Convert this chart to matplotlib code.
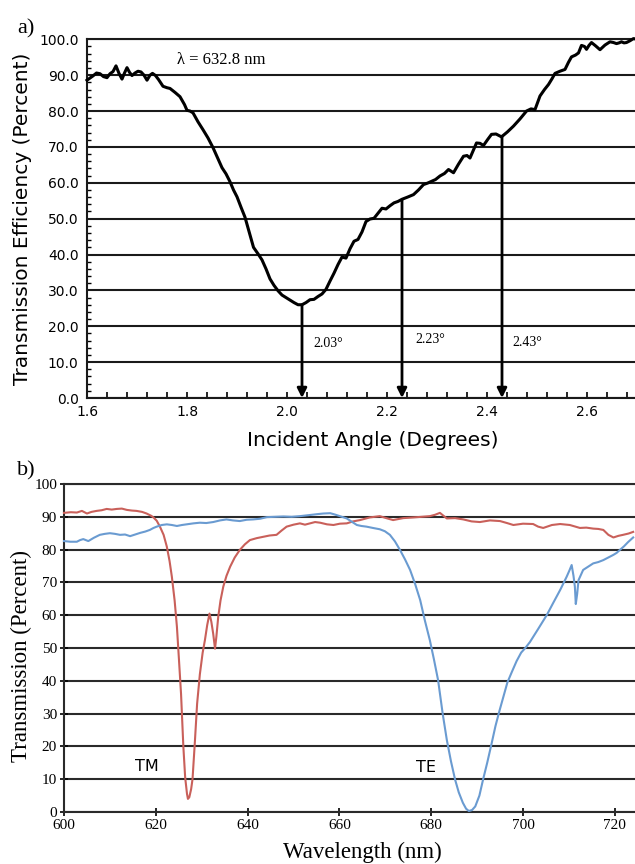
import numpy as np
import matplotlib
matplotlib.use('Agg')
import matplotlib.pyplot as plt
from matplotlib.ticker import MultipleLocator

# ---- panel a: transmission vs incident angle at 632.8 nm ----
angle = [1.600, 1.606, 1.612, 1.619, 1.626, 1.633, 1.640, 1.646, 1.652, 1.658,
         1.664, 1.670, 1.675, 1.680, 1.685, 1.690, 1.696, 1.702, 1.708, 1.714,
         1.720, 1.726, 1.731, 1.737, 1.743, 1.752, 1.760, 1.766, 1.776, 1.786,
         1.795, 1.800, 1.806, 1.812, 1.822, 1.832, 1.842, 1.852, 1.861, 1.870,
         1.878, 1.886, 1.893, 1.900, 1.908, 1.916, 1.925, 1.933, 1.942, 1.950,
         1.958, 1.966, 1.974, 1.982, 1.990, 1.998, 2.006, 2.014, 2.022, 2.030,
         2.038, 2.046, 2.054, 2.062, 2.070, 2.078, 2.086, 2.094, 2.102, 2.110,
         2.118, 2.126, 2.134, 2.142, 2.150, 2.158, 2.166, 2.174, 2.182, 2.190,
         2.198, 2.206, 2.214, 2.222, 2.230, 2.241, 2.253, 2.263, 2.273, 2.281,
         2.289, 2.297, 2.306, 2.315, 2.323, 2.333, 2.343, 2.353, 2.360, 2.366,
         2.373, 2.379, 2.386, 2.393, 2.401, 2.409, 2.418, 2.429, 2.441, 2.453,
         2.466, 2.479, 2.488, 2.496, 2.506, 2.515, 2.523, 2.530, 2.536, 2.546,
         2.556, 2.563, 2.569, 2.577, 2.583, 2.589, 2.595, 2.599, 2.604, 2.609,
         2.617, 2.626, 2.636, 2.646, 2.653, 2.659, 2.664, 2.669, 2.674, 2.679,
         2.686, 2.693, 2.700]
efficiency = [88.6, 89.2, 89.8, 90.6, 90.4, 89.6, 89.3, 90.4, 91.0, 92.6,
              90.5, 88.9, 90.6, 92.1, 90.8, 89.9, 90.6, 91.1, 90.9, 90.0,
              88.6, 90.0, 90.5, 89.9, 88.8, 86.9, 86.5, 86.3, 85.2, 84.0,
              81.8, 80.2, 80.0, 79.5, 77.0, 74.8, 72.5, 69.8, 67.0, 64.2,
              62.5, 60.3, 58.0, 56.1, 53.2, 50.4, 46.0, 42.0, 40.2, 38.5,
              36.0, 33.2, 31.4, 29.9, 28.7, 28.0, 27.3, 26.6, 26.0, 26.0,
              26.6, 27.4, 27.5, 28.3, 29.0, 30.3, 32.6, 34.8, 37.2, 39.3,
              39.0, 41.6, 43.7, 44.2, 46.3, 49.2, 49.9, 50.1, 51.5, 52.9,
              52.7, 53.6, 54.4, 54.8, 55.4, 56.0, 56.7, 58.0, 59.5, 59.9,
              60.4, 60.9, 61.9, 62.6, 63.7, 62.8, 65.2, 67.4, 67.6, 66.9,
              69.2, 71.1, 71.0, 70.4, 72.0, 73.5, 73.6, 72.8, 74.2, 75.8,
              77.8, 80.0, 80.6, 80.4, 84.2, 86.0, 87.4, 89.0, 90.5, 91.1,
              91.6, 93.6, 95.1, 95.6, 96.2, 98.3, 98.0, 97.2, 98.3, 99.1,
              98.2, 97.1, 98.4, 99.3, 99.1, 98.8, 99.0, 99.3, 99.0, 99.1,
              99.6, 100.2, 100.0]

arrow_angles = [2.03, 2.23, 2.43]
arrow_tops = [26.0, 55.3, 73.0]
arrow_labels = ['2.03°', '2.23°', '2.43°']
arrow_label_x = [2.082, 2.286, 2.480]
arrow_label_y = [15.3, 16.2, 15.6]

# ---- panel b: transmission spectra ----
tm_wl = [600.0, 601.5, 602.8, 603.9, 605.0, 606.0, 607.1, 608.2, 609.3, 610.4,
         611.5, 612.6, 613.7, 614.8, 615.8, 617.0, 618.0, 619.0, 619.5, 620.2,
         620.9, 621.7, 622.4, 623.0, 623.5, 624.1, 624.6, 625.0, 625.5, 626.0,
         626.4, 626.8, 627.0, 627.3, 627.7, 628.0, 628.5, 629.0, 629.6, 630.2,
         630.7, 631.2, 631.7, 632.1, 632.5, 632.9, 633.2, 633.6, 634.1, 634.7,
         635.4, 636.2, 637.2, 638.3, 639.4, 640.5, 642.0, 643.4, 644.8, 646.3,
         647.4, 648.5, 650.0, 651.4, 652.5, 653.6, 654.7, 655.8, 657.3, 658.7,
         660.1, 661.6, 663.0, 664.5, 666.6, 668.8, 670.2, 671.7, 673.9, 676.1,
         677.9, 679.7, 680.8, 681.9, 682.6, 683.4, 685.2, 687.0, 688.8, 690.6,
         692.8, 695.0, 696.5, 697.9, 700.0, 702.2, 703.3, 704.4, 706.3, 708.1,
         710.2, 712.4, 713.8, 715.3, 716.4, 717.5, 718.6, 719.7, 720.8, 721.8,
         723.0, 724.0]
tm_trans = [91.2, 91.4, 91.3, 91.8, 91.0, 91.5, 91.8, 92.0, 92.4, 92.2,
            92.4, 92.5, 92.1, 91.9, 91.8, 91.5, 91.0, 90.3, 89.8, 88.8,
            87.0, 84.5, 80.9, 76.5, 71.7, 64.5, 56.5, 47.5, 36.0, 20.0,
            10.5, 5.5, 4.0, 4.5, 7.0, 10.0, 21.1, 33.0, 42.0, 48.5,
            52.4, 57.0, 60.5, 58.0, 54.4, 49.8, 53.5, 59.5, 64.5, 68.7,
            72.0, 74.8, 77.6, 79.9, 81.6, 82.9, 83.5, 83.9, 84.3, 84.5,
            85.8, 87.0, 87.6, 88.0, 87.6, 88.0, 88.4, 88.2, 87.7, 87.5,
            87.9, 88.0, 88.6, 89.0, 89.8, 90.2, 89.6, 89.0, 89.6, 89.8,
            90.0, 90.2, 90.6, 91.2, 90.4, 89.5, 89.6, 89.2, 88.6, 88.4,
            88.9, 88.7, 88.1, 87.5, 87.9, 87.8, 87.0, 86.6, 87.5, 87.8,
            87.5, 86.6, 86.7, 86.4, 86.3, 86.0, 84.5, 83.7, 84.2, 84.5,
            84.9, 85.4]

te_wl = [600.0, 601.4, 602.8, 603.5, 604.2, 605.3, 606.5, 607.8, 608.9, 610.0,
         611.1, 612.2, 613.3, 614.4, 615.5, 616.6, 617.7, 618.7, 619.5, 620.2,
         621.3, 622.4, 623.5, 624.6, 625.7, 626.7, 628.2, 629.6, 631.0, 632.5,
         634.0, 635.4, 636.8, 638.3, 639.8, 641.2, 642.7, 644.2, 646.0, 647.8,
         649.6, 651.4, 653.3, 655.1, 656.5, 658.0, 659.0, 660.1, 661.6, 662.7,
         663.8, 664.8, 665.9, 667.3, 668.8, 669.9, 671.0, 672.1, 673.2, 674.3,
         675.4, 676.5, 677.6, 678.6, 679.7, 680.6, 681.5, 682.5, 683.4, 684.3,
         685.2, 686.0, 686.9, 687.6, 688.2, 688.9, 689.6, 690.5, 691.3, 692.2,
         693.1, 694.0, 694.9, 695.8, 696.6, 697.6, 698.6, 699.6, 700.5, 701.5,
         703.3, 705.2, 706.6, 708.1, 709.5, 710.1, 710.6, 711.0, 711.3, 711.5,
         711.8, 712.1, 713.1, 714.2, 715.3, 716.4, 717.5, 718.6, 719.7, 720.4,
         721.1, 722.0, 722.9, 724.0]
te_trans = [82.6, 82.4, 82.4, 82.9, 83.2, 82.6, 83.6, 84.5, 84.8, 85.0,
            84.8, 84.5, 84.6, 84.1, 84.6, 85.1, 85.5, 86.0, 86.6, 87.0,
            87.5, 87.7, 87.5, 87.2, 87.5, 87.7, 88.0, 88.2, 88.1, 88.4,
            88.9, 89.2, 88.9, 88.7, 89.1, 89.2, 89.4, 89.9, 90.0, 90.1,
            90.0, 90.2, 90.5, 90.8, 91.0, 91.1, 90.7, 90.2, 89.5, 88.5,
            87.5, 87.2, 87.0, 86.6, 86.2, 85.6, 84.5, 82.5, 79.9, 77.0,
            73.8, 69.5, 64.6, 58.5, 52.4, 46.5, 40.2, 30.0, 22.0, 15.5,
            9.9, 6.0, 2.8, 1.0, 0.3, 0.6, 1.7, 5.0, 9.9, 15.0,
            20.5, 26.2, 31.0, 35.5, 39.5, 42.8, 46.0, 48.6, 50.0, 51.8,
            55.8, 60.1, 63.8, 67.7, 71.7, 73.6, 75.3, 72.0, 68.7, 63.4,
            66.5, 70.7, 73.8, 74.8, 75.8, 76.2, 76.8, 77.6, 78.4, 79.0,
            79.9, 81.0, 82.3, 83.7]

SERIF = 'Liberation Serif'
plt.rcParams['font.family'] = ['DejaVu Sans']

fig = plt.figure(figsize=(6.35, 8.64), dpi=100)

# ---------------- panel a ----------------
ax1 = fig.add_axes([87 / 635, 466 / 864, 550 / 635, 358.7 / 864])
ax1.set_xlim(1.6, 2.7)
ax1.set_ylim(0, 100)
ax1.yaxis.set_minor_locator(MultipleLocator(2))
ax1.xaxis.set_minor_locator(MultipleLocator(0.04))
ax1.set_yticks(np.arange(0, 101, 10))
ax1.set_yticklabels([f'{v:.1f}' for v in np.arange(0, 101, 10)])
ax1.set_xticks(np.arange(1.6, 2.61, 0.2))
ax1.set_xticklabels([f'{v:.1f}' for v in np.arange(1.6, 2.61, 0.2)])
ax1.grid(axis='y', which='major', color='#1a1a1a', lw=1.5)
ax1.set_axisbelow(True)
ax1.spines['right'].set_visible(False)
for s in ['left', 'bottom', 'top']:
    ax1.spines[s].set_linewidth(1.5)
    ax1.spines[s].set_color('#1a1a1a')
ax1.tick_params(axis='both', which='both', direction='in', top=False, right=False)
ax1.tick_params(axis='x', which='both', length=4, width=1.2, pad=5, labelsize=10)
ax1.tick_params(axis='y', which='major', length=0, pad=6, labelsize=10)
ax1.tick_params(axis='y', which='minor', length=3, width=1)

ax1.plot(angle, efficiency, color='black', lw=2.2, clip_on=False, zorder=3)

for xa, yt in zip(arrow_angles, arrow_tops):
    ax1.annotate('', xy=(xa, 0), xytext=(xa, yt),
                 arrowprops=dict(arrowstyle='-|>', color='black', lw=2.0,
                                 mutation_scale=14, shrinkA=0, shrinkB=0),
                 zorder=4)
for lbl, lx, ly in zip(arrow_labels, arrow_label_x, arrow_label_y):
    ax1.text(lx, ly, lbl, family=SERIF, fontsize=10, ha='center', va='center')

ax1.text(1.78, 94.2, 'λ = 632.8 nm', family=SERIF, fontsize=12,
         ha='left', va='center')

ax1.set_ylabel('Transmission Efficiency (Percent)', fontsize=14.5)
ax1.yaxis.set_label_coords(-0.10, 0.50)
ax1.set_xlabel('Incident Angle (Degrees)', fontsize=14.5)
ax1.xaxis.set_label_coords(0.52, -0.092)

fig.text(17 / 635, 1 - 33 / 864, 'a)', family=SERIF, fontsize=16,
         ha='left', va='baseline')

# ---------------- panel b ----------------
ax2 = fig.add_axes([64 / 635, 52 / 864, 571 / 635, 328 / 864])
ax2.set_xlim(600, 724.4)
ax2.set_ylim(0, 100)
ax2.set_yticks(np.arange(0, 101, 10))
ax2.set_xticks(np.arange(600, 721, 20))
ax2.grid(axis='y', color='#2a2a2a', lw=1.5)
ax2.set_axisbelow(True)
ax2.spines['right'].set_visible(False)
for s in ['left', 'bottom', 'top']:
    ax2.spines[s].set_linewidth(1.5)
    ax2.spines[s].set_color('#2a2a2a')
ax2.tick_params(axis='both', direction='inout', length=6, width=1.2,
                labelsize=11, pad=2)
for lab in ax2.get_xticklabels() + ax2.get_yticklabels():
    lab.set_family(SERIF)

ax2.plot(tm_wl, tm_trans, color='#c9605a', lw=1.5, clip_on=False, zorder=3)
ax2.plot(te_wl, te_trans, color='#6a9bd1', lw=1.5, clip_on=False, zorder=3)

ax2.text(618.0, 13.8, 'TM', fontsize=11.5, ha='center', va='center')
ax2.text(678.8, 13.5, 'TE', fontsize=11.5, ha='center', va='center')

ax2.set_ylabel('Transmission (Percent)', family=SERIF, fontsize=16.5)
ax2.yaxis.set_label_coords(-0.056, 0.476)
ax2.set_xlabel('Wavelength (nm)', family=SERIF, fontsize=16.5)
ax2.xaxis.set_label_coords(0.523, -0.0915)

fig.text(17 / 635, 1 - 475 / 864, 'b)', family=SERIF, fontsize=16,
         ha='left', va='baseline')

fig.savefig('out.png', dpi=100)
